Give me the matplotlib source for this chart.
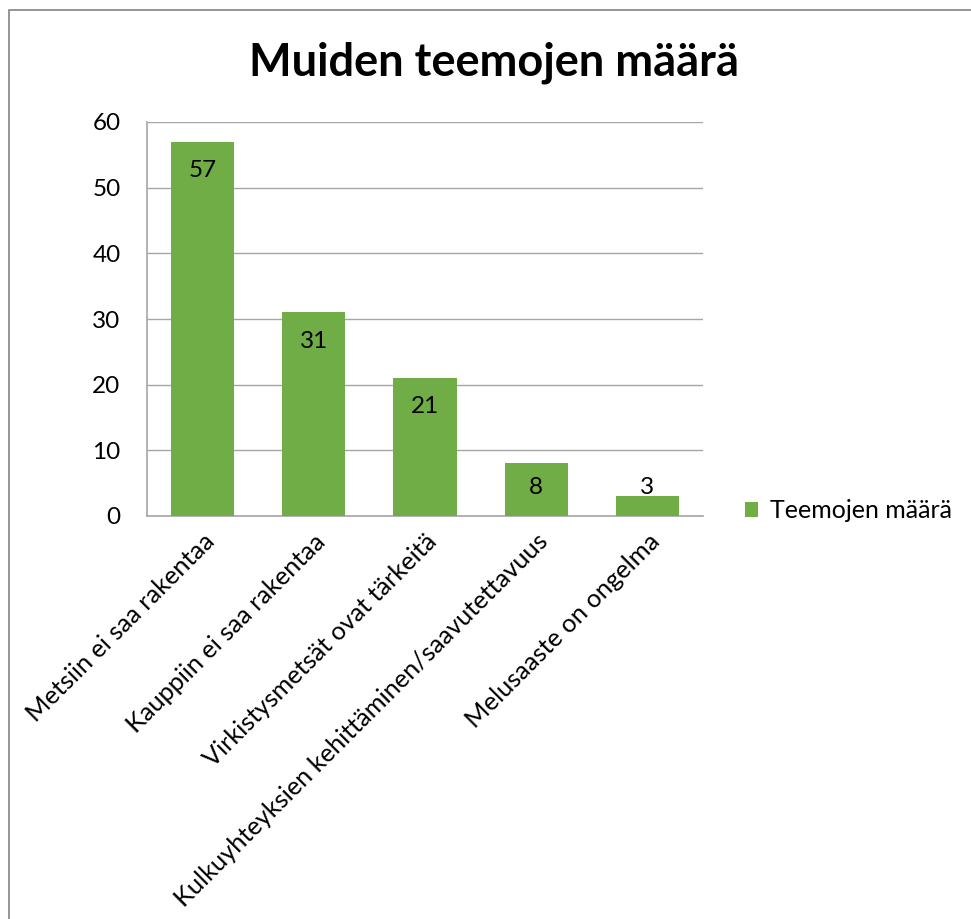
import matplotlib
matplotlib.use('Agg')
import matplotlib.pyplot as plt
from matplotlib.patches import Rectangle
import numpy as np

categories = ['Metsiin ei saa rakentaa', 'Kauppiin ei saa rakentaa', 'Virkistysmetsät ovat tärkeitä',
              'Kulkuyhteyksien kehittäminen/saavutettavuus', 'Melusaaste on ongelma']
values = [57, 31, 21, 8, 3]
series_name = 'Teemojen määrä'
title = 'Muiden teemojen määrä'
yticks = [0, 10, 20, 30, 40, 50, 60]

green = '#70AD47'
grid_col = '#A6A6A6'
fs = 17.5

plt.rcParams['font.family'] = ['Lato', 'DejaVu Sans']

fig = plt.figure(figsize=(9.71, 9.19), dpi=100)
W, H = 971, 919
# plot area in pixels: x 147..703, y 122..516
ax = fig.add_axes([147 / W, 1 - 516 / H, (703 - 147) / W, (516 - 122) / H])

x = np.arange(len(values))
bars = ax.bar(x, values, width=0.567, color=green, label=series_name, zorder=3)

ax.set_xlim(-0.5, len(values) - 0.5)
ax.set_ylim(0, 60)
ax.set_yticks(yticks)
ax.yaxis.grid(True, color=grid_col, linewidth=1, zorder=0)
ax.tick_params(axis='both', length=0, labelsize=fs)
ax.tick_params(axis='y', pad=19)
for s in ['top', 'right']:
    ax.spines[s].set_visible(False)
for s in ['left', 'bottom']:
    ax.spines[s].set_color(grid_col)
    ax.spines[s].set_linewidth(1.2)

ax.set_xticks(x)
ax.set_xticklabels(categories, rotation=45, ha='right', va='top', rotation_mode='anchor', fontsize=18.3)
ax.tick_params(axis='x', pad=10)

# data labels, inside end (clamped near the base for short bars)
for xi, v in zip(x, values):
    ly = max(v - 4.4, 4.3)
    ax.text(xi, ly, str(v), ha='center', va='center', fontsize=fs, zorder=4)

fig.text((247 + 740) / 2 / W, 1 - 63 / H, title, ha='center', va='center',
         fontsize=32.5, fontweight='bold')

leg = fig.legend(handles=[bars], labels=[series_name], loc='center left',
                 bbox_to_anchor=(722 / W, 1 - 511 / H), frameon=False, fontsize=18,
                 handlelength=0.55, handleheight=0.55, handletextpad=0.45)

# chart border (only left and top visible in the crop)
fig.add_artist(Rectangle((8.5 / W, -0.05), 1.2, 1 - 9.5 / H + 0.05, transform=fig.transFigure,
                         fill=False, edgecolor='#8C8C8C', linewidth=1.3))

fig.savefig('out.png', dpi=100)
